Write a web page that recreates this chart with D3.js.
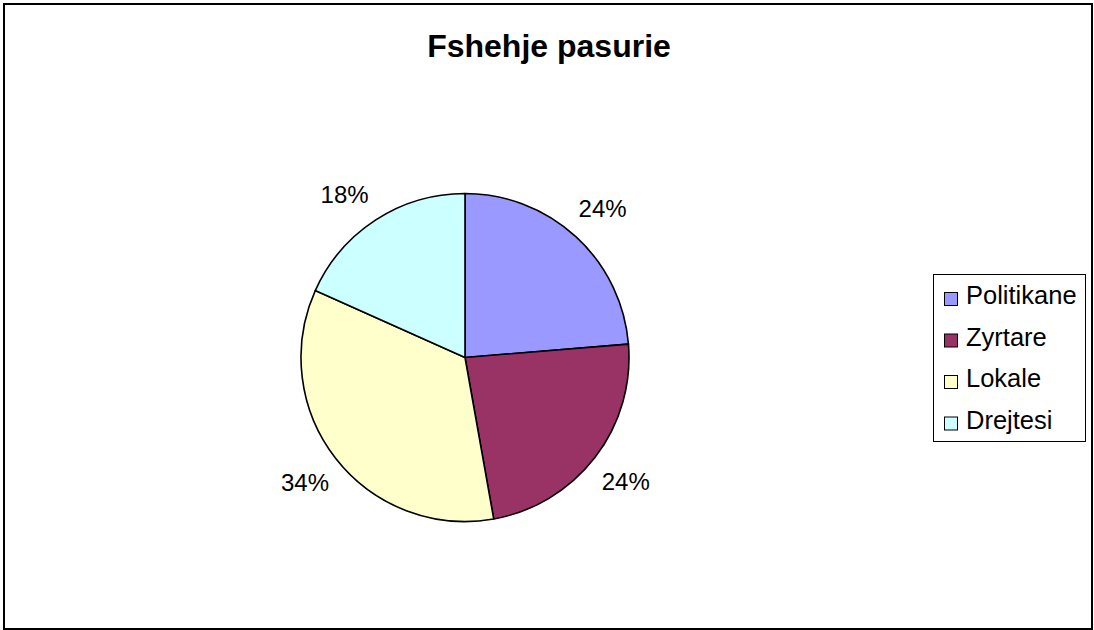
<!DOCTYPE html>
<html>
<head>
<meta charset="utf-8">
<script src="https://cdn.jsdelivr.net/npm/d3@7"></script>
<style>
  body { margin: 0; background: #fff; }
  svg text { font-family: "Liberation Sans", Arial, sans-serif; }
</style>
</head>
<body>
<div id="chart"></div>
<script>
// data
const categories = ["Politikane", "Zyrtare", "Lokale", "Drejtesi"];
const values = [23.7, 23.5, 34.49, 18.31];
const colors = ["#9999FF", "#993366", "#FFFFCC", "#CCFFFF"];
const title = "Fshehje pasurie";

const width = 1094, height = 630;
const cx = 465, cy = 357.5, r = 164;

const svg = d3.select("#chart")
    .append("svg")
    .attr("width", width)
    .attr("height", height);

// chart frame
svg.append("rect")
    .attr("x", 4)
    .attr("y", 4)
    .attr("width", 1088)
    .attr("height", 625)
    .attr("fill", "#fff")
    .attr("stroke", "#000")
    .attr("stroke-width", 2);

svg.append("text")
    .attr("x", 549)
    .attr("y", 57)
    .attr("text-anchor", "middle")
    .attr("font-size", 32)
    .attr("font-weight", "bold")
    .text(title);

const total = d3.sum(values);
const pie = d3.pie().sort(null).value(d => d);
const arcs = pie(values);

const arc = d3.arc().innerRadius(0).outerRadius(r);
const labelArc = d3.arc().innerRadius(203).outerRadius(203);

const g = svg.append("g").attr("transform", `translate(${cx},${cy})`);

g.selectAll("path")
    .data(arcs)
    .enter()
    .append("path")
    .attr("d", arc)
    .attr("fill", (d, i) => colors[i])
    .attr("stroke", "#000")
    .attr("stroke-width", 1.6)
    .attr("stroke-linejoin", "round");

// labels sit a little toward the top for the last slice, as in the original
g.selectAll("text.lbl")
    .data(arcs)
    .enter()
    .append("text")
    .attr("class", "lbl")
    .attr("transform", d => {
        const a = (d.startAngle + d.endAngle) / 2 - (d.index === 3 ? 0.06 : 0);
        return `translate(${Math.sin(a) * 203},${-Math.cos(a) * 203})`;
    })
    .attr("text-anchor", "middle")
    .attr("dy", "0.36em")
    .attr("font-size", 24)
    .text(d => Math.round(d.data / total * 100) + "%");

// legend
const legend = svg.append("g");

legend.append("rect")
    .attr("x", 933.5)
    .attr("y", 274.5)
    .attr("width", 152)
    .attr("height", 167)
    .attr("fill", "#fff")
    .attr("stroke", "#000")
    .attr("stroke-width", 1);

const items = legend.selectAll("g.item")
    .data(categories)
    .enter()
    .append("g")
    .attr("class", "item")
    .attr("transform", (d, i) => `translate(0,${i * 41.5})`);

items.append("rect")
    .attr("x", 944.5)
    .attr("y", 292.5)
    .attr("width", 13)
    .attr("height", 13)
    .attr("fill", (d, i) => colors[i])
    .attr("stroke", "#000")
    .attr("stroke-width", 1);

items.append("text")
    .attr("x", 966)
    .attr("y", 304)
    .attr("font-size", 25.5)
    .text(d => d);
</script>
</body>
</html>
